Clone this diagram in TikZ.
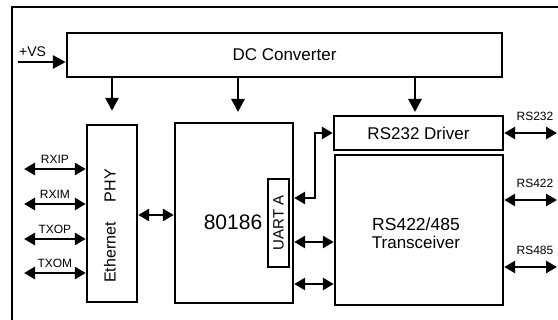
\documentclass[tikz,border=0pt]{standalone}
\usepackage{fontspec}
\setmainfont{Liberation Sans}
\usetikzlibrary{arrows.meta}

\tikzset{
  blockbox/.style={draw, line width=2.4pt, inner sep=0pt, align=center},
  arr/.style={line width=2.8pt, -{Triangle[length=13pt,width=13pt]}},
  dbl/.style={line width=2.8pt, {Triangle[length=11pt,width=12pt]}-{Triangle[length=11pt,width=12pt]}},
  sig/.style={font=\fontsize{12}{14}\selectfont, inner sep=1pt}
}

\begin{document}
\begin{tikzpicture}[x=1pt,y=-1pt]%Diagrama de bloques del modulo
    \useasboundingbox (0,0) rectangle (558,320);

    % marco exterior
    \draw[line width=2.2pt] (12,330) |- (570,7);

    % bloques
    \node[blockbox, minimum width=435pt, minimum height=44pt, font=\fontsize{17}{20}\selectfont] (dc) at (284.5,55) {DC Converter};
    \node[blockbox, minimum width=50pt, minimum height=177pt] (eth) at (112,213.5) {};
    \node[blockbox, minimum width=118pt, minimum height=180pt] (cpu) at (234,213) {};
    \node[blockbox, minimum width=88pt, minimum height=21pt, rotate=90, font=\fontsize{15}{17}\selectfont] (uart) at (278.5,223) {UART A};
    \node[blockbox, minimum width=169pt, minimum height=34pt, font=\fontsize{17}{20}\selectfont] (drv) at (418.5,133) {RS232 Driver};
    \node[blockbox, minimum width=168pt, minimum height=150pt] (xcvr) at (419,230) {};

    % textos de los bloques
    \node[rotate=90, font=\fontsize{16}{18}\selectfont] at (110,226) {Ethernet\hspace{20pt}PHY};
    \node[font=\fontsize{21}{24}\selectfont] at (233,222) {80186};
    \node[font=\fontsize{17.5}{20}\selectfont, align=center] at (416,233) {RS422/485\\[-2pt]\fontsize{17}{20}\selectfont Transceiver};

    % alimentacion
    \coordinate (vs) at (18,62);
    \draw[arr] (vs) -- (vs -| dc.west);
    \node[font=\fontsize{14}{16}\selectfont, inner sep=1pt, anchor=south west, yshift=4pt] at (vs) {+VS};
    \draw[arr, shorten >=13pt] (eth.north |- dc.south) -- (eth.north);
    \draw[arr, shorten >=11pt] (238,77) -- (238,123);
    \draw[arr, shorten >=4pt] (415,77) -- (415,116);

    % senales ethernet
    \foreach \name/\y in {RXIP/169, RXIM/204, TXOP/239, TXOM/273}{
        \coordinate (\name) at (24,\y);
        \draw[dbl] (\name) -- (\name -| eth.west) node[sig, midway, above=3pt] {\name};
    }

    % conexiones internas
    \draw[dbl] (eth.east |- 0,215) -- (cpu.west |- 0,215);
    \coordinate (u1) at (cpu.east |- 0,198);
    \draw[dbl] (u1) -- (315,198) -- (315,133) -- (drv.west);
    \draw[dbl] (cpu.east |- 0,242) -- (xcvr.west |- 0,242);
    \draw[dbl] (cpu.east |- 0,284) -- (xcvr.west |- 0,284);

    % salidas serie
    \foreach \name/\y/\from in {RS232/133/drv, RS422/200/xcvr, RS485/267/xcvr}{
        \coordinate (\name) at (557,\y);
        \draw[dbl] (\from.east |- \name) -- (\name);
        \node[sig] at (535,\y-17) {\name};
    }
\end{tikzpicture}
\end{document}
